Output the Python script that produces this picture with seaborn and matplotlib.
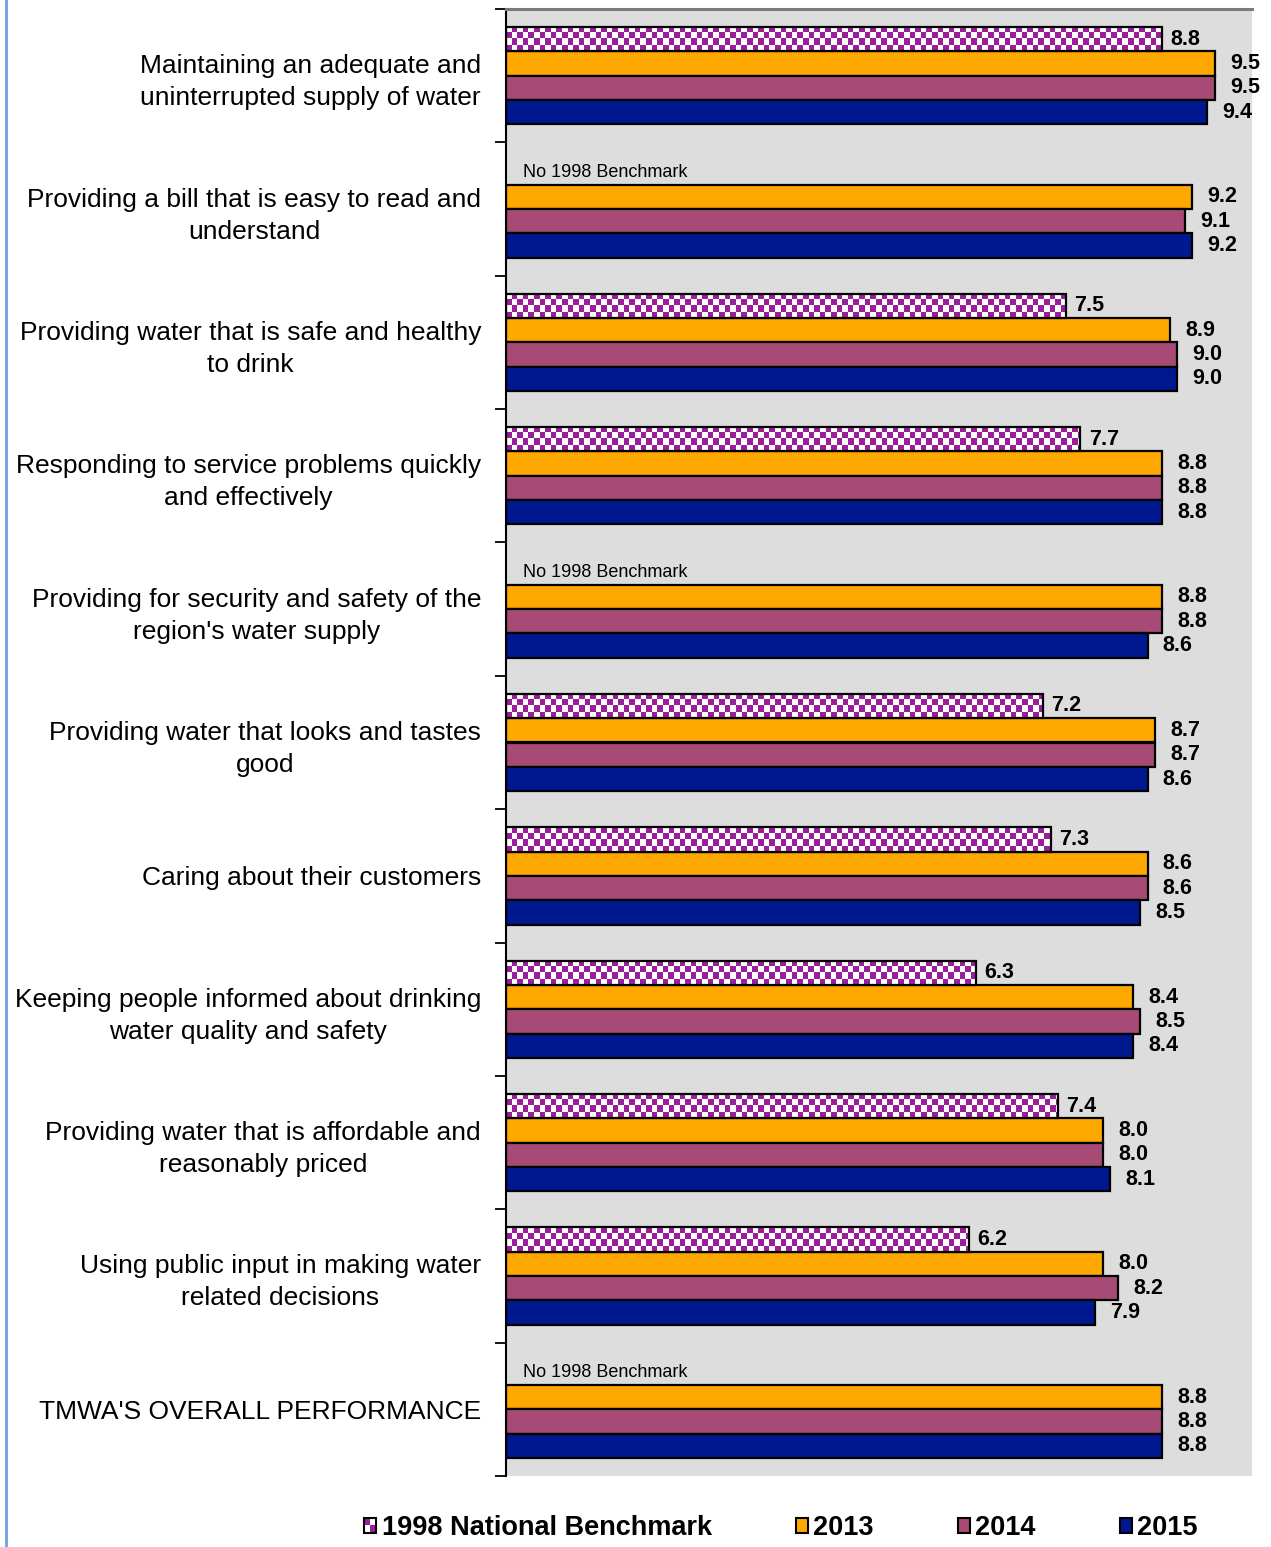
import numpy as np
import pandas as pd
import seaborn as sns
import matplotlib
matplotlib.use("Agg")
import matplotlib.pyplot as plt
from matplotlib.colors import ListedColormap
from matplotlib.patches import Rectangle
from matplotlib.lines import Line2D
from matplotlib.legend_handler import HandlerBase

# ---------------- data ----------------
categories = [
    "Maintaining an adequate and\nuninterrupted supply of water",
    "Providing a bill that is easy to read and\nunderstand",
    "Providing water that is safe and healthy\nto drink",
    "Responding to service problems quickly\nand effectively",
    "Providing for security and safety of the\nregion's water supply",
    "Providing water that looks and tastes\ngood",
    "Caring about their customers",
    "Keeping people informed about drinking\nwater quality and safety",
    "Providing water that is affordable and\nreasonably priced",
    "Using public input in making water\nrelated decisions",
    "TMWA'S OVERALL PERFORMANCE",
]
series_names = ["1998 National Benchmark", "2013", "2014", "2015"]
benchmark_1998 = [8.8, np.nan, 7.5, 7.7, np.nan, 7.2, 7.3, 6.3, 7.4, 6.2, np.nan]
values_2013 = [9.5, 9.2, 8.9, 8.8, 8.8, 8.7, 8.6, 8.4, 8.0, 8.0, 8.8]
values_2014 = [9.5, 9.1, 9.0, 8.8, 8.8, 8.7, 8.6, 8.5, 8.0, 8.2, 8.8]
values_2015 = [9.4, 9.2, 9.0, 8.8, 8.6, 8.6, 8.5, 8.4, 8.1, 7.9, 8.8]
no_benchmark_text = "No 1998 Benchmark"

# ---------------- styles ----------------
checker_purple = "#9A1E9A"
colors = {"1998 National Benchmark": "#FFFFFF", "2013": "#FFA800",
          "2014": "#A84A76", "2015": "#00188F"}

rows = []
for name, vals in zip(series_names, [benchmark_1998, values_2013, values_2014, values_2015]):
    for cat, v in zip(categories, vals):
        rows.append({"category": cat, "series": name, "value": v})
df = pd.DataFrame(rows)

sns.set_theme(style="white")
plt.rcParams["font.family"] = ["Liberation Sans", "DejaVu Sans"]
plt.rcParams["text.color"] = "black"
plt.rcParams["ytick.color"] = "black"

W, H = 1271, 1547
fig = plt.figure(figsize=(W / 100, H / 100), dpi=100)
left, right, top, bottom = 506, 1252, 9, 1476
ax = fig.add_axes([left / W, 1 - bottom / H, (right - left) / W, (bottom - top) / H])
ax.set_facecolor("#DDDDDD")

sns.barplot(data=df, y="category", x="value", hue="series", hue_order=series_names,
            order=categories, palette=colors, width=0.73, saturation=1,
            edgecolor="black", linewidth=1.6, orient="h", ax=ax, legend=False)

ax.set_xlim(0, 10)
ylim = ax.get_ylim()
ax.set_xlabel("")
ax.set_ylabel("")
ax.set_xticks([])

# y ticks: labels at centres, tick marks at group boundaries
ax.set_yticks(range(len(categories)))
ax.set_yticklabels(categories, fontsize=19, linespacing=1.42, color="black")
for t in ax.get_yticklabels():
    t.set_multialignment("center")
ax.set_yticks(np.arange(-0.5, len(categories), 1), minor=True)
ax.tick_params(axis="y", which="major", length=0, pad=18, left=True, labelcolor="black")
ax.tick_params(axis="y", which="minor", length=8, width=1.3, color="black",
               direction="out", left=True)

for s in ["right", "bottom"]:
    ax.spines[s].set_visible(False)
ax.spines["left"].set_color("black")
ax.spines["left"].set_linewidth(1.5)
ax.spines["top"].set_color("#7A7A7A")
ax.spines["top"].set_linewidth(2.2)

# checker pattern for the benchmark bars
cmap = ListedColormap(["white", checker_purple])
cell_x = 5.6 / ((right - left) / 10.0)
for p in ax.containers[0]:
    w = p.get_width()
    if not np.isfinite(w) or w <= 0:
        continue
    x0, y0, h = p.get_x(), p.get_y(), p.get_height()
    ncols = int(np.ceil(w / cell_x))
    nrows = 4
    arr = np.add.outer(np.arange(nrows), np.arange(ncols)) % 2
    im = ax.imshow(arr, cmap=cmap, interpolation="nearest", aspect="auto",
                   extent=(x0, x0 + ncols * cell_x, y0 + h, y0),
                   zorder=p.get_zorder() + 0.1)
    im.set_clip_path(p)
    p.set_facecolor("none")
    p.set_zorder(p.get_zorder() + 0.2)

ax.set_xlim(0, 10)
ax.set_ylim(ylim)

# value labels
for k, cont in enumerate(ax.containers):
    for p in cont:
        w = p.get_width()
        if not np.isfinite(w):
            continue
        yc = p.get_y() + p.get_height() / 2
        ax.annotate(f"{w:.1f}", (w, yc), xytext=(6 if k == 0 else 11, 0),
                    textcoords="offset points", ha="left", va="center",
                    fontsize=15.5, fontweight="bold", color="black", zorder=5)

# "No 1998 Benchmark" notes
for i, v in enumerate(benchmark_1998):
    if np.isfinite(v):
        continue
    for p in ax.containers[1]:
        h = p.get_height()
        yc = p.get_y() + h / 2
        if round(yc) == i:
            ax.annotate(no_benchmark_text, (0, yc - h), xytext=(12, 0),
                        textcoords="offset points", ha="left", va="center",
                        fontsize=13, color="black", zorder=5)

# legend
class CheckerHandle:
    pass


class HandlerChecker(HandlerBase):
    def create_artists(self, legend, orig_handle, xdescent, ydescent,
                       width, height, fontsize, trans):
        arts = []
        x0, y0 = -xdescent, -ydescent
        cw, ch = width / 2, height / 2
        base = Rectangle((x0, y0), width, height, facecolor="white",
                         edgecolor="none", transform=trans)
        arts.append(base)
        for (ix, iy) in [(0, 1), (1, 0)]:
            arts.append(Rectangle((x0 + ix * cw, y0 + iy * ch), cw, ch,
                                  facecolor=checker_purple, edgecolor="none",
                                  transform=trans))
        arts.append(Rectangle((x0, y0), width, height, facecolor="none",
                              edgecolor="black", lw=1.5, transform=trans))
        return arts


handles = [CheckerHandle()] + [
    Rectangle((0, 0), 1, 1, facecolor=colors[n], edgecolor="black", lw=1.5)
    for n in series_names[1:]
]
fig.legend(handles, series_names, handler_map={CheckerHandle: HandlerChecker()},
           loc="center", bbox_to_anchor=(781 / W, 1 - 1528 / H), ncol=4,
           frameon=False, prop={"weight": "bold", "size": 19.5},
           handlelength=0.45, handleheight=0.45, handletextpad=0.2,
           columnspacing=3.1, borderpad=0, labelcolor="black")

# thin blue frame line on the left edge
fig.add_artist(Line2D([6 / W, 6 / W], [0, 1], color="#6C9FDB", lw=2,
                      transform=fig.transFigure))

fig.savefig("out.png", dpi=100)
